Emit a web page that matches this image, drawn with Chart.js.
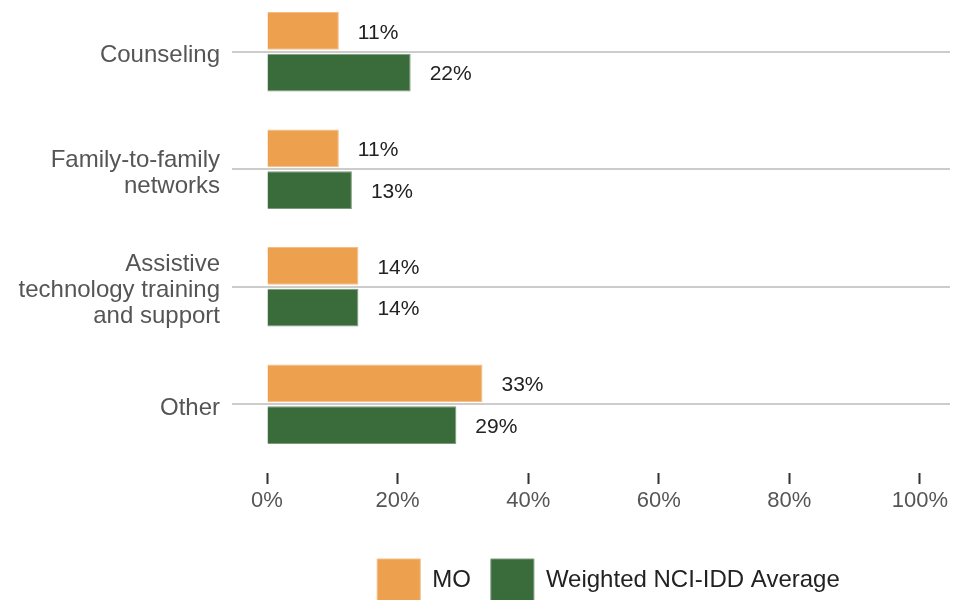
<!DOCTYPE html>
<html>
<head>
<meta charset="utf-8">
<script src="https://cdn.jsdelivr.net/npm/chart.js@4.4.1/dist/chart.umd.min.js"></script>
<style>
  html, body { margin: 0; padding: 0; background: #fff; overflow: hidden; }
  #wrap { position: absolute; left: 0; top: -40px; width: 953px; height: 652px; }
</style>
</head>
<body>
<div id="wrap"><canvas id="chart"></canvas></div>
<script>
const categories = [
  "Counseling",
  ["Family-to-family", "networks"],
  ["Assistive", "technology training", "and support"],
  "Other",
];
const moValues = [11, 11, 14, 33];
const nciValues = [22, 13, 14, 29];
const xTicks = [0, 20, 40, 60, 80, 100];

const FONT = "'Liberation Sans', Arial, sans-serif";

// value labels drawn right of each bar
const barLabels = {
  id: "barLabels",
  afterDatasetsDraw(chart) {
    const ctx = chart.ctx;
    ctx.save();
    ctx.font = "21px " + FONT;
    ctx.fillStyle = "#222";
    ctx.textAlign = "left";
    ctx.textBaseline = "middle";
    chart.data.datasets.forEach((ds, i) => {
      chart.getDatasetMeta(i).data.forEach((bar, j) => {
        ctx.fillText(ds.data[j] + "%", bar.x + 19, bar.y + 2);
      });
    });
    ctx.restore();
  },
};

new Chart(document.getElementById("chart"), {
  type: "bar",
  data: {
    labels: categories,
    datasets: [
      { label: "MO", data: moValues, backgroundColor: "#eda04d", borderColor: "#f3bd85", borderWidth: 1 },
      { label: "Weighted NCI-IDD Average", data: nciValues, backgroundColor: "#3a6b3a", borderColor: "#7c9a7c", borderWidth: 1 },
    ],
  },
  options: {
    indexAxis: "y",
    responsive: true,
    maintainAspectRatio: false,
    animation: false,
    categoryPercentage: 0.71,
    barPercentage: 0.9,
    layout: { padding: { top: 33, right: 3, bottom: 0, left: 0 } },
    scales: {
      x: {
        min: 0,
        max: 104.6,
        afterBuildTicks: (scale) => { scale.ticks = xTicks.map((v) => ({ value: v })); },
        afterFit: (scale) => { scale.height = 76; },
        border: { display: false },
        grid: {
          drawOnChartArea: false,
          drawTicks: true,
          tickLength: 21,
          tickColor: "#333",
          tickWidth: 2,
          tickBorderDash: [0, 10, 11, 100],
        },
        ticks: {
          padding: 4,
          color: "#555",
          font: { family: FONT, size: 22 },
          callback: (v) => v + "%",
        },
      },
      y: {
        afterFit: (scale) => { scale.width = 267; },
        border: { display: false },
        grid: {
          offset: false,
          color: "#cccccc",
          lineWidth: 2,
          tickLength: 35,
        },
        ticks: {
          padding: 12,
          labelOffset: 4,
          color: "#555",
          font: { family: FONT, size: 24, lineHeight: 1.085 },
        },
      },
    },
    plugins: {
      legend: {
        position: "bottom",
        fullSize: false,
        labels: {
          boxWidth: 43,
          boxHeight: 43,
          padding: 20,
          color: "#222",
          font: { family: FONT, size: 24 },
        },
      },
      tooltip: { enabled: false },
    },
  },
  plugins: [barLabels],
});
</script>
</body>
</html>
